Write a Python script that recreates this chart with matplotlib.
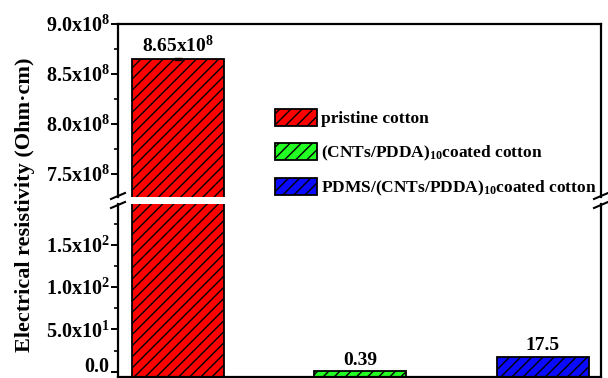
import matplotlib.pyplot as plt
from matplotlib.lines import Line2D
from matplotlib.patches import Patch
from matplotlib.ticker import MultipleLocator

plt.rcParams['font.family'] = ['Liberation Serif', 'DejaVu Serif']
plt.rcParams['font.weight'] = 'bold'
plt.rcParams['mathtext.fontset'] = 'custom'
plt.rcParams['mathtext.rm'] = 'Liberation Serif:bold'
plt.rcParams['mathtext.it'] = 'Liberation Serif:bold'
plt.rcParams['mathtext.bf'] = 'Liberation Serif:bold'
plt.rcParams['hatch.linewidth'] = 1.0

# data
labels = [r'pristine cotton',
          r'(CNTs/PDDA)$_{10}$coated cotton',
          r'PDMS/(CNTs/PDDA)$_{10}$coated cotton']
values = [8.65e8, 0.39, 17.5]
errors = [0.012e8, 0, 0]
value_texts = [r'8.65x$10^{8}$', '0.39', '17.5']
colors = ['#ff0000', '#22ff22', '#0a0aff']
top_ticks = [7.5e8, 8.0e8, 8.5e8, 9.0e8]
top_ticklabels = [r'7.5x$10^{8}$', r'8.0x$10^{8}$', r'8.5x$10^{8}$', r'9.0x$10^{8}$']
bot_ticks = [0, 50, 100, 150]
bot_ticklabels = ['0.0', r'5.0x$10^{1}$', r'1.0x$10^{2}$', r'1.5x$10^{2}$']

W, H = 608, 378
fig = plt.figure(figsize=(W / 100, H / 100), dpi=100)

def box(l, t, r, b):
    return [l / W, 1 - b / H, (r - l) / W, (b - t) / H]

ax_top = fig.add_axes(box(118, 24, 601, 197))
ax_bot = fig.add_axes(box(118, 204, 601, 377))

x = [1, 2, 3]
base = -30  # bars start below the visible axis bottom
heights = [v - base for v in values]
for ax in (ax_top, ax_bot):
    ax.bar(x, heights, bottom=base, width=0.505, color=colors, edgecolor='black',
           linewidth=1.3, hatch='///', zorder=2)
    ax.set_xlim(0.67, 3.32)
    ax.set_xticks([])
    for s in ax.spines.values():
        s.set_linewidth(1.6)
    ax.tick_params(axis='y', which='major', direction='out', length=5, width=1.4,
                   labelsize=14.5, pad=1)
    ax.tick_params(axis='y', which='minor', direction='out', length=3, width=1.2)

ax_top.errorbar(x[0], values[0], yerr=errors[0], fmt='none', ecolor='black',
                capsize=3, elinewidth=1, zorder=3)

ax_top.set_ylim(7.27e8, 9.0e8)
ax_top.set_yticks(top_ticks)
ax_top.set_yticklabels(top_ticklabels)
ax_top.yaxis.set_minor_locator(MultipleLocator(0.25e8))
ax_top.spines['bottom'].set_visible(False)

ax_bot.set_ylim(-6.3, 198.4)
ax_bot.set_yticks(bot_ticks)
ax_bot.set_yticklabels(bot_ticklabels)
ax_bot.yaxis.set_minor_locator(MultipleLocator(25))
ax_bot.spines['top'].set_visible(False)
# keep the "0.0" label inside the picture
ax_bot.get_yticklabels()[0].set_verticalalignment('baseline')

# value labels
ax_top.annotate(value_texts[0], (x[0], values[0]), xytext=(0, 2),
                textcoords='offset points', ha='center', va='bottom', fontsize=14)
for i in (1, 2):
    ax_bot.annotate(value_texts[i], (x[i], values[i]), xytext=(0, 2),
                    textcoords='offset points', ha='center', va='bottom', fontsize=14)

# break marks
for x0 in (118, 601):
    for yc in (196, 205):
        fig.add_artist(Line2D([(x0 - 7) / W, (x0 + 7) / W],
                              [1 - (yc + 3) / H, 1 - (yc - 3) / H],
                              color='black', lw=1.5, transform=fig.transFigure))

fig.text(25 / W, 1 - 205 / H, 'Electrical resistivity (Ohm\u00b7cm)', rotation=90,
         ha='center', va='center', fontsize=16)

handles = [Patch(facecolor=c, edgecolor='black', hatch='///', linewidth=1.3) for c in colors]
fig.legend(handles, labels, loc='upper left', bbox_to_anchor=(275 / W, 1 - 109 / H),
           frameon=False, fontsize=12.5, handlelength=2.4, handleheight=1.15,
           handletextpad=0.25, labelspacing=0.88, borderpad=0, borderaxespad=0)

fig.savefig('out.png', dpi=100)
